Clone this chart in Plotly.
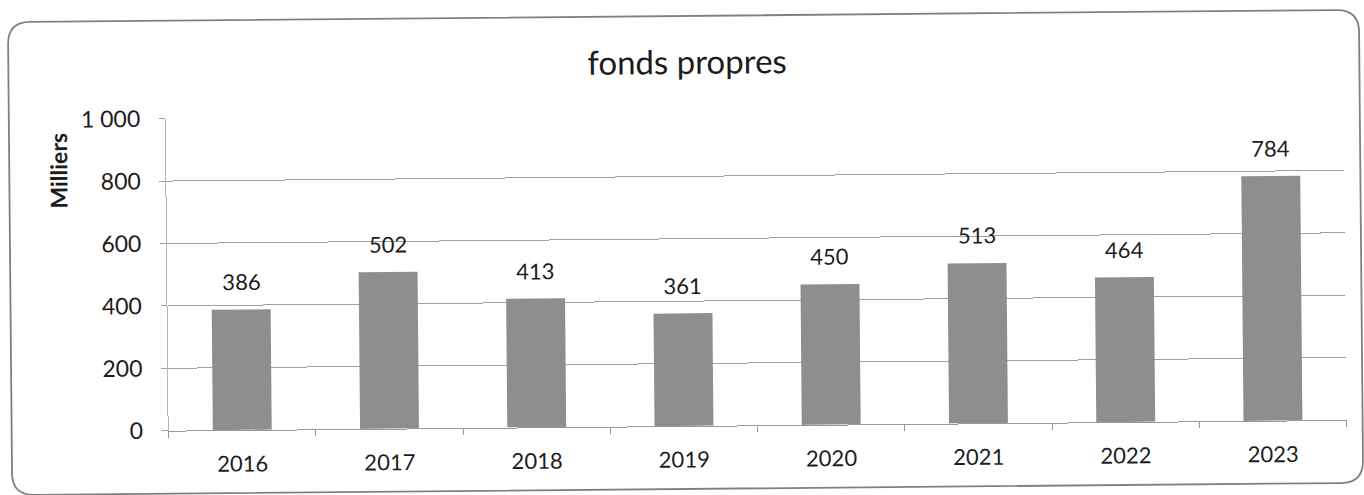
import plotly.graph_objects as go

# Equity by year (thousands)
years = ["2016", "2017", "2018", "2019", "2020", "2021", "2022", "2023"]
equity = [386, 502, 413, 361, 450, 513, 464, 784]

y_tick_values = [0, 200, 400, 600, 800, 1000]
y_tick_labels = ["0", "200", "400", "600", "800", "1 000"]

chart_title = "fonds propres"
y_unit_label = "Milliers"

W, H = 1364, 495
PLOT_L, PLOT_R, PLOT_T, PLOT_B = 167, 1345, 114, 426
FONT = "Lato, 'Open Sans', sans-serif"
TEXT = "#1c1c1c"
GRID = "#a0a0a0"


def px_x(x):
    return (x - PLOT_L) / (PLOT_R - PLOT_L)


def px_y(y):
    return (PLOT_B - y) / (PLOT_B - PLOT_T)


fig = go.Figure()
fig.add_trace(
    go.Bar(
        x=years,
        y=equity,
        width=0.4,
        marker=dict(color="#8e8e8e", line=dict(width=0)),
        hoverinfo="x+y",
    )
)

annotations = []
# value labels above each bar (category positions given by index)
for i, v in enumerate(equity):
    annotations.append(
        dict(
            x=i, y=v, xref="x", yref="y", text=str(v), showarrow=False,
            xanchor="center", yanchor="middle", yshift=28,
            font=dict(family=FONT, size=22, color=TEXT),
        )
    )
# chart title
annotations.append(
    dict(
        x=px_x(688), y=px_y(61), xref="paper", yref="paper", text=chart_title,
        showarrow=False, xanchor="center", yanchor="middle",
        font=dict(family=FONT, size=33, color=TEXT),
    )
)
# unit label on the value axis
annotations.append(
    dict(
        x=px_x(59), y=px_y(165), xref="paper", yref="paper",
        text="<b>" + y_unit_label + "</b>", textangle=-90, showarrow=False,
        xanchor="center", yanchor="middle",
        font=dict(family=FONT, size=23, color=TEXT),
    )
)

# rounded chart border
bl, br, bt, bb, r = 10, 1361, 16, 489, 22
path = (
    f"M {px_x(bl + r)},{px_y(bt)} L {px_x(br - r)},{px_y(bt)} "
    f"Q {px_x(br)},{px_y(bt)} {px_x(br)},{px_y(bt + r)} "
    f"L {px_x(br)},{px_y(bb - r)} "
    f"Q {px_x(br)},{px_y(bb)} {px_x(br - r)},{px_y(bb)} "
    f"L {px_x(bl + r)},{px_y(bb)} "
    f"Q {px_x(bl)},{px_y(bb)} {px_x(bl)},{px_y(bb - r)} "
    f"L {px_x(bl)},{px_y(bt + r)} "
    f"Q {px_x(bl)},{px_y(bt)} {px_x(bl + r)},{px_y(bt)} Z"
)

fig.update_layout(
    width=W,
    height=H,
    margin=dict(l=PLOT_L, r=W - PLOT_R, t=PLOT_T, b=H - PLOT_B),
    paper_bgcolor="white",
    plot_bgcolor="white",
    showlegend=False,
    bargap=0.6,
    annotations=annotations,
    shapes=[
        dict(type="path", path=path, xref="paper", yref="paper",
             line=dict(color="#808080", width=1.8), layer="below")
    ],
    xaxis=dict(
        type="category",
        range=[-0.5, 7.5],
        showgrid=False,
        showline=True,
        linecolor="#999999",
        linewidth=1.2,
        ticks="outside",
        tickson="boundaries",
        ticklen=6,
        tickcolor="#999999",
        ticklabelstandoff=14,
        tickfont=dict(family=FONT, size=22, color=TEXT),
    ),
    yaxis=dict(
        range=[0, 1000],
        tickvals=y_tick_values,
        ticktext=y_tick_labels,
        showgrid=True,
        gridcolor=GRID,
        gridwidth=1.3,
        zeroline=False,
        showline=True,
        linecolor="#b4b4b4",
        linewidth=1,
        ticks="outside",
        ticklen=6,
        tickcolor=GRID,
        ticklabelstandoff=14,
        tickfont=dict(family=FONT, size=23, color=TEXT),
    ),
)

# slight tilt of the whole sheet
post = (
    "var gd=document.getElementById('{plot_id}');"
    "gd.style.transformOrigin='682px 247.5px';"
    "gd.style.transform='rotate(-0.52deg)';"
)

fig.write_html("out.html", config={"displayModeBar": False}, post_script=post)
